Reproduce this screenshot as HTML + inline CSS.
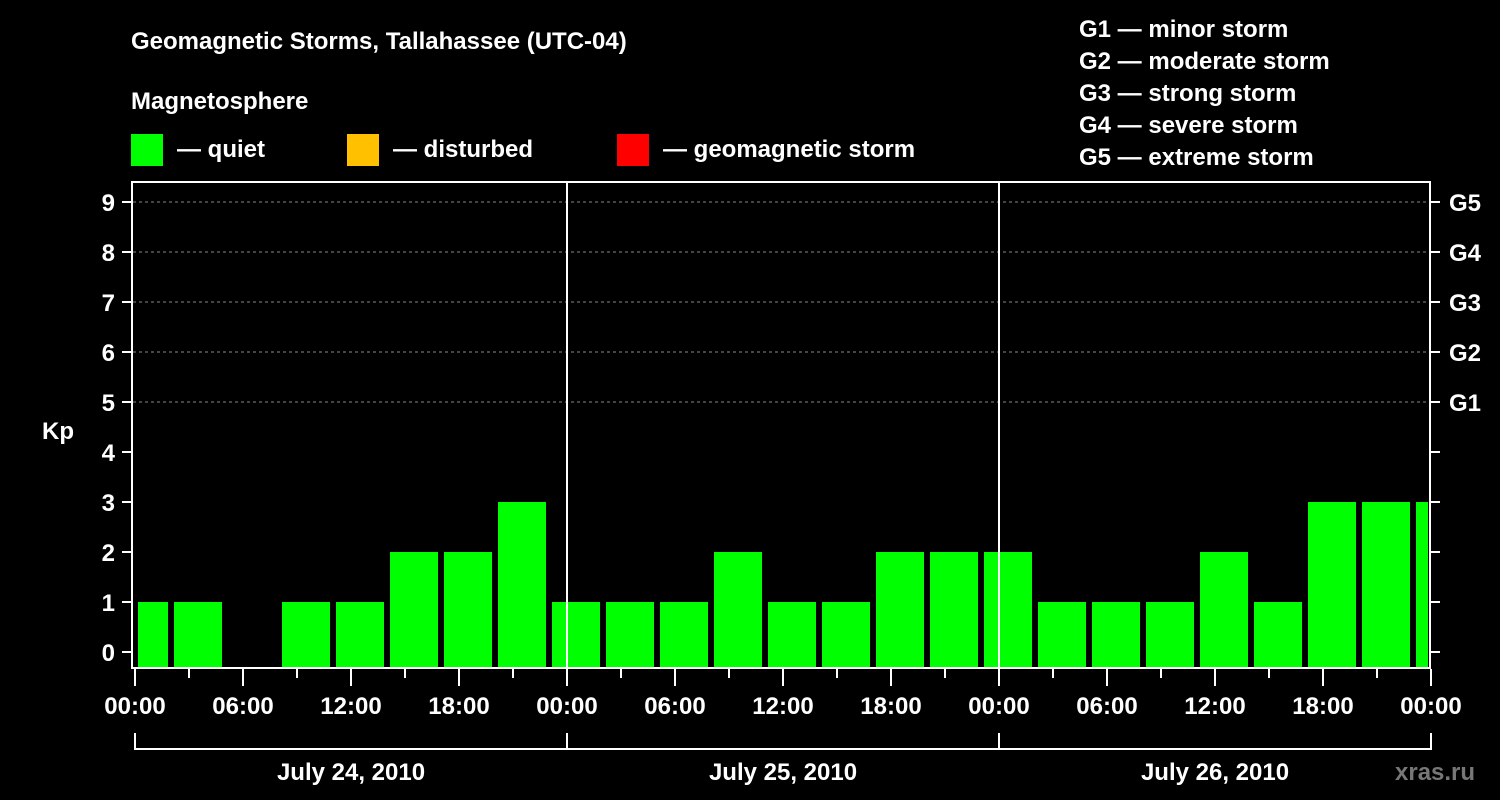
<!DOCTYPE html>
<html><head><meta charset="utf-8"><style>
body{margin:0;background:#000;}
svg{display:block;font-family:"Liberation Sans",sans-serif;font-weight:bold;}
</style></head><body>
<svg width="1500" height="800" viewBox="0 0 1500 800">
<rect width="1500" height="800" fill="#000"/>
<text x="131" y="49" fill="#fff" font-size="24">Geomagnetic Storms, Tallahassee (UTC-04)</text>
<text x="131" y="109" fill="#fff" font-size="24">Magnetosphere</text>
<g><rect x="131" y="134" width="32" height="32" fill="#00ff00"/><text x="177" y="157" fill="#fff" font-size="24">— quiet</text></g>
<g><rect x="347" y="134" width="32" height="32" fill="#ffc000"/><text x="393" y="157" fill="#fff" font-size="24">— disturbed</text></g>
<g><rect x="617" y="134" width="32" height="32" fill="#ff0000"/><text x="663" y="157" fill="#fff" font-size="24">— geomagnetic storm</text></g>
<g fill="#fff" font-size="24">
<text x="1079" y="37">G1 — minor storm</text>
<text x="1079" y="69">G2 — moderate storm</text>
<text x="1079" y="101">G3 — strong storm</text>
<text x="1079" y="133">G4 — severe storm</text>
<text x="1079" y="165">G5 — extreme storm</text>
</g>
<text x="42" y="439" fill="#fff" font-size="24">Kp</text>
<text x="1395" y="780" fill="#777" font-size="24">xras.ru</text>
<g id="plot"></g>
<rect x="132" y="182" width="1298" height="486" fill="none" stroke="#fff" stroke-width="2"/>
</svg>
<script>
const kpValues=[1,1,null,1,1,2,2,3,1,1,1,2,1,1,2,2,2,1,1,1,2,1,3,3,3];
const yTicks=[0,1,2,3,4,5,6,7,8,9];
const gLabels=["G1","G2","G3","G4","G5"];
const dayLabels=["July 24, 2010","July 25, 2010","July 26, 2010"];
const hourLabels=["00:00","06:00","12:00","18:00"];
const NS="http://www.w3.org/2000/svg";
const g=document.getElementById('plot');
const x=h=>135+h*18;
const y=v=>652-v*50;
function mk(t,a){const e=document.createElementNS(NS,t);for(const k in a)e.setAttribute(k,a[k]);g.appendChild(e);return e;}
yTicks.forEach(v=>{
 if(v>=5){const l=mk('line',{x1:133,x2:1429,y1:y(v),y2:y(v),stroke:'#888','stroke-dasharray':'3,3'});
 
 }
 mk('line',{x1:122,x2:132,y1:y(v),y2:y(v),stroke:'#fff','stroke-width':2});
 mk('line',{x1:1430,x2:1440,y1:y(v),y2:y(v),stroke:'#fff','stroke-width':2});
 const t=mk('text',{x:115,y:y(v)+9,fill:'#fff','font-size':24,'text-anchor':'end'});
 t.textContent=v;
 
 
});
gLabels.forEach((s,i)=>{
 const t=mk('text',{x:1449,y:y(5+i)+9,fill:'#fff','font-size':24});
 t.textContent=s;
 
 
});
kpValues.forEach((v,i)=>{
 if(v===null)return;
 const s=Math.max(-1+3*i,0),e=Math.min(2+3*i,72);
 const r=mk('rect',{x:x(s)+3,y:y(v),width:x(e)-x(s)-6,height:668-y(v),fill:'#00ff00'});
 
 
});
[1,2].forEach(d=>{const l=mk('line',{x1:x(24*d),x2:x(24*d),y1:182,y2:668,stroke:'#fff','stroke-width':2});
 
 });
for(let h=0;h<=72;h+=3){
 const major=h%6===0;
 mk('line',{x1:x(h),x2:x(h),y1:669,y2:major?686:678,stroke:'#fff','stroke-width':2});
 if(major&&h%6===0&&h%6===0&&(h%6===0)&&((h/6)%1===0)&&h%6===0&&(h%6===0)&&(h%6===0)&&(h%6===0)&&(h%6===0)&&(h%6===0)&&(h%6===0)&&h%6===0){
  if(h%6===0&&(h%6===0)){}
 }
 if(h%6===0&&(h%24)%6===0){
  const t=mk('text',{x:x(h),y:714,fill:'#fff','font-size':24,'text-anchor':'middle'});
  t.textContent=hourLabels[(h%24)/6];
  
  
 }
}
dayLabels.forEach((s,d)=>{
 mk('line',{x1:x(24*d),x2:x(24*d+24),y1:749,y2:749,stroke:'#fff','stroke-width':2});
 mk('line',{x1:x(24*d),x2:x(24*d),y1:733,y2:750,stroke:'#fff','stroke-width':2});
 mk('line',{x1:x(24*d+24),x2:x(24*d+24),y1:733,y2:750,stroke:'#fff','stroke-width':2});
 const t=mk('text',{x:x(24*d+12),y:780,fill:'#fff','font-size':24,'text-anchor':'middle'});
 t.textContent=s;
 
 
});
</script>
</body></html>
